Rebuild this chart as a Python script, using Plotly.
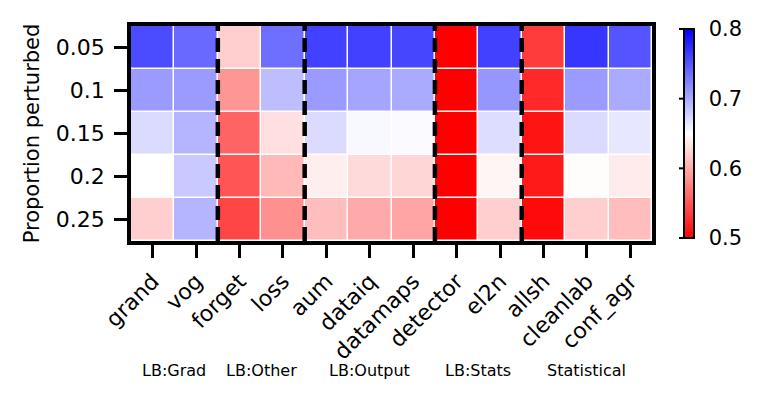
import plotly.graph_objects as go

methods = ["grand", "vog", "forget", "loss", "aum", "dataiq", "datamaps",
           "detector", "el2n", "allsh", "cleanlab", "conf_agr"]
proportions = ["0.05", "0.1", "0.15", "0.2", "0.25"]

row_005 = [0.756, 0.738, 0.621, 0.735, 0.762, 0.762, 0.759, 0.500, 0.762, 0.535, 0.768, 0.750]
row_010 = [0.709, 0.709, 0.588, 0.688, 0.709, 0.703, 0.700, 0.500, 0.712, 0.524, 0.709, 0.700]
row_015 = [0.671, 0.694, 0.559, 0.631, 0.671, 0.654, 0.653, 0.500, 0.670, 0.512, 0.671, 0.664]
row_020 = [0.650, 0.682, 0.550, 0.609, 0.640, 0.628, 0.626, 0.500, 0.644, 0.515, 0.648, 0.638]
row_025 = [0.621, 0.694, 0.541, 0.585, 0.612, 0.600, 0.597, 0.500, 0.621, 0.506, 0.621, 0.611]

groups = ["LB:Grad", "LB:Other", "LB:Output", "LB:Stats", "Statistical"]
group_sizes = [2, 2, 3, 2, 3]

cbar_ticks = [0.5, 0.6, 0.7, 0.8]
zmin, zmax = 0.5, 0.8

z = [row_005, row_010, row_015, row_020, row_025]

# matplotlib "bwr_r"
bwr_r = [[0.0, "rgb(255,0,0)"], [0.5, "rgb(255,255,255)"], [1.0, "rgb(0,0,255)"]]

W, H = 762, 399
ML, MR, MT, MB = 131, 110, 26, 158
PW, PH = W - ML - MR, H - MT - MB
CB_LEN = 209
CB_X = (684 - ML) / PW
CB_Y = 1 - (133.5 - MT) / PH

fig = go.Figure(go.Heatmap(
    z=z, x=methods, y=proportions,
    zmin=zmin, zmax=zmax, colorscale=bwr_r,
    xgap=1.5, ygap=1.5,
    colorbar=dict(
        x=CB_X, xanchor="left", y=CB_Y, yanchor="middle",
        thickness=10, len=CB_LEN, lenmode="pixels", xpad=0, ypad=0,
        outlinecolor="black", outlinewidth=2,
        tickvals=cbar_ticks, ticktext=[f"{t:.1f}" for t in cbar_ticks],
        ticks="outside", ticklen=10, tickcolor="rgba(0,0,0,0)",
        tickfont=dict(size=21, color="black"),
    ),
))

# colorbar tick marks sit on the left side of the bar
cb_top = (1 - CB_Y) * PH - CB_LEN / 2   # px from plot top
x_tick = CB_X - 5 / PW
for t in cbar_ticks:
    ypx = cb_top + (zmax - t) / (zmax - zmin) * CB_LEN
    yp = 1 - ypx / PH
    fig.add_shape(type="line", xref="paper", yref="paper",
                  x0=x_tick, x1=CB_X, y0=yp, y1=yp,
                  line=dict(color="black", width=2))

# dashed separators between method groups
edge = -0.5
for n in group_sizes[:-1]:
    edge += n
    fig.add_shape(type="line", x0=edge, x1=edge, y0=0, y1=1,
                  xref="x", yref="paper",
                  line=dict(color="black", width=4.5, dash="14px,7px"))

# group labels under the tick labels
start = -0.5
for name, n in zip(groups, group_sizes):
    fig.add_annotation(x=start + n / 2, y=-(370 - (H - MB)) / PH,
                       xref="x", yref="paper", yanchor="middle",
                       text=name, showarrow=False,
                       font=dict(size=16, color="black"))
    start += n

fig.update_layout(
    width=W, height=H,
    margin=dict(l=ML, r=MR, t=MT, b=MB, autoexpand=False),
    paper_bgcolor="white", plot_bgcolor="white",
    font=dict(family="DejaVu Sans", size=22, color="black"),
    xaxis=dict(tickangle=-45, ticks="outside", ticklen=13, tickwidth=2.5,
               tickcolor="black", showline=True, mirror=True,
               linecolor="black", linewidth=3.5, showgrid=False,
               ticklabelstandoff=2, tickfont=dict(size=22)),
    yaxis=dict(autorange="reversed", ticks="outside", ticklen=13, tickwidth=2.5,
               tickcolor="black", showline=True, mirror=True,
               linecolor="black", linewidth=3.5, showgrid=False,
               ticklabelstandoff=5,
               title=dict(text="Proportion perturbed", font=dict(size=21),
                          standoff=12),
               tickfont=dict(size=22)),
)

fig.write_html("out.html", config={"displayModeBar": False},
               post_script="document.body.style.margin='0';")
